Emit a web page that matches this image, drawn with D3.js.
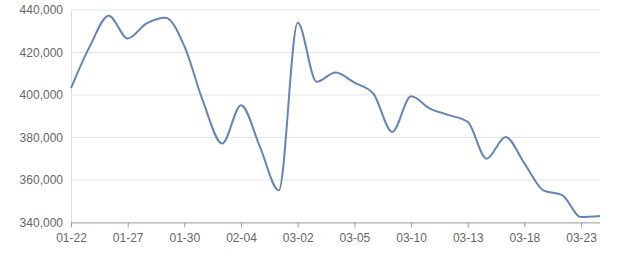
<!DOCTYPE html>
<html>
<head>
<meta charset="utf-8">
<script src="https://cdn.jsdelivr.net/npm/d3@7/dist/d3.min.js"></script>
<style>
  html, body { margin: 0; padding: 0; background: #fff; }
  svg { display: block; }
</style>
</head>
<body>
<svg id="chart" width="640" height="270"></svg>
<script>
const dates = ["01-22","01-24","01-25","01-27","01-28","01-29","01-30","01-31","02-01","02-04","02-05","02-06","03-02","03-03","03-04","03-05","03-07","03-08","03-10","03-11","03-12","03-13","03-14","03-15","03-18","03-20","03-21","03-23","03-24"];
const values = [403200,423000,437300,426600,433700,436400,423000,396700,377100,395200,375600,355100,434000,406200,410600,405800,400700,382600,399400,393600,390500,387300,370000,380200,367800,355100,352800,342500,343000];
const yTicks = [340000,360000,380000,400000,420000,440000];
const labelDates = ["01-22","01-27","01-30","02-04","03-02","03-05","03-10","03-13","03-18","03-23"];

const svg = d3.select("#chart");
const mLeft = 71, mRight = 600, mTop = 10, mBottom = 222.4;

const x = d3.scalePoint().domain(dates).range([mLeft, mRight]);
const y = d3.scaleLinear().domain([340000, 440000]).range([mBottom, mTop]);
const fmt = d3.format(",");

// grid lines
svg.append("g").selectAll("line").data(yTicks.slice(1)).join("line")
  .attr("x1", mLeft).attr("x2", mRight)
  .attr("y1", d => y(d)).attr("y2", d => y(d))
  .attr("stroke", "#e3e3e3").attr("stroke-width", 1);

// y axis
const yAxis = svg.append("g").attr("transform", `translate(${mLeft},0)`)
  .call(d3.axisLeft(y).tickValues(yTicks).tickFormat(fmt).tickSize(0).tickPadding(8));
yAxis.select(".domain").attr("stroke", "#dcdcdc");
yAxis.selectAll("text").attr("fill", "#666").style("font-family", "'Liberation Sans', Arial, sans-serif").style("font-size", "12px");

// x axis
const xAxis = svg.append("g").attr("transform", `translate(0,${mBottom})`)
  .call(d3.axisBottom(x).tickValues(labelDates).tickSize(5).tickPadding(6));
xAxis.select(".domain").attr("stroke", "#999").attr("d", `M${mLeft},0.5H${mRight}`);
xAxis.selectAll(".tick line").attr("stroke", "#999");
xAxis.selectAll("text").attr("fill", "#666").style("font-family", "'Liberation Sans', Arial, sans-serif").style("font-size", "12px");

// line
const line = d3.line()
  .x((d, i) => x(dates[i]))
  .y(d => y(d))
  .curve(d3.curveMonotoneX);

svg.append("path").datum(values)
  .attr("d", line)
  .attr("fill", "none")
  .attr("stroke", "#6485b8")
  .attr("stroke-width", 2)
  .attr("stroke-linejoin", "round");
</script>
</body>
</html>
